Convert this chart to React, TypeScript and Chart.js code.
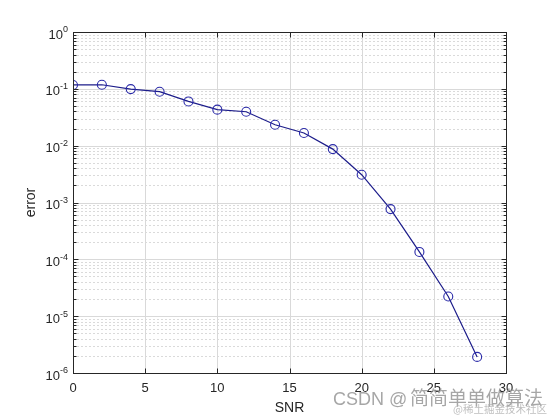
import React, { useEffect, useRef } from "react";
import { Chart, registerables } from "chart.js";

Chart.register(...registerables);

const snr = [0, 2, 4, 6, 8, 10, 12, 14, 16, 18, 20, 22, 24, 26, 28];
const errorValues = [
  0.117, 0.118, 0.099, 0.089, 0.06, 0.043, 0.0395, 0.0233, 0.0167, 0.0087,
  0.00308, 0.000765, 0.000135, 0.0000222, 0.00000192,
];
const xTicks = [0, 5, 10, 15, 20, 25, 30];
const yExponents = [0, -1, -2, -3, -4, -5, -6];
const xTitle = "SNR";
const yTitle = "error";
const watermarkLatin = "CSDN @";
const watermarkCjk = "简简单单做算法";
const watermarkSmall = "@稀土掘金技术社区";

const FONT = '"Liberation Sans", Arial, Helvetica, sans-serif';
const CJK = '"Noto Sans CJK SC", sans-serif';

const decorPlugin = {
  id: "decor",
  beforeDatasetsDraw(chart: any) {
    const { ctx, chartArea: a, scales } = chart;
    const xs = scales.x;
    const ys = scales.y;
    ctx.save();
    // minor y grid (dotted)
    ctx.strokeStyle = "#dadada";
    ctx.lineWidth = 1;
    ctx.setLineDash([2, 2]);
    for (const e of yExponents) {
      if (e === 0) continue;
      for (let k = 2; k <= 9; k++) {
        const y = Math.round(ys.getPixelForValue(k * Math.pow(10, e))) + 0.5;
        ctx.beginPath();
        ctx.moveTo(a.left, y);
        ctx.lineTo(a.right, y);
        ctx.stroke();
      }
    }
    ctx.setLineDash([]);
    // major grid
    ctx.strokeStyle = "#d9d9d9";
    for (const e of yExponents) {
      const y = Math.round(ys.getPixelForValue(Math.pow(10, e))) + 0.5;
      ctx.beginPath();
      ctx.moveTo(a.left, y);
      ctx.lineTo(a.right, y);
      ctx.stroke();
    }
    for (const t of xTicks) {
      const x = Math.round(xs.getPixelForValue(t)) + 0.5;
      ctx.beginPath();
      ctx.moveTo(x, a.top);
      ctx.lineTo(x, a.bottom);
      ctx.stroke();
    }
    ctx.restore();
  },
  afterDraw(chart: any) {
    const { ctx, chartArea: a, scales } = chart;
    const xs = scales.x;
    const ys = scales.y;
    ctx.save();
    const L = Math.round(a.left) + 0.5;
    const R = Math.round(a.right) + 0.5;
    const T = Math.round(a.top) + 0.5;
    const B = Math.round(a.bottom) + 0.5;
    ctx.strokeStyle = "#262626";
    ctx.lineWidth = 1;
    ctx.strokeRect(L, T, R - L, B - T);
    // ticks
    ctx.beginPath();
    for (const e of yExponents) {
      const y = Math.round(ys.getPixelForValue(Math.pow(10, e))) + 0.5;
      ctx.moveTo(L, y);
      ctx.lineTo(L + 5, y);
      ctx.moveTo(R, y);
      ctx.lineTo(R - 5, y);
      if (e === 0) continue;
      for (let k = 2; k <= 9; k++) {
        const ym = Math.round(ys.getPixelForValue(k * Math.pow(10, e))) + 0.5;
        ctx.moveTo(L, ym);
        ctx.lineTo(L + 3, ym);
        ctx.moveTo(R, ym);
        ctx.lineTo(R - 3, ym);
      }
    }
    for (const t of xTicks) {
      const x = Math.round(xs.getPixelForValue(t)) + 0.5;
      ctx.moveTo(x, B);
      ctx.lineTo(x, B - 5);
      ctx.moveTo(x, T);
      ctx.lineTo(x, T + 5);
    }
    ctx.stroke();

    // tick labels
    ctx.fillStyle = "#262626";
    ctx.font = `13px ${FONT}`;
    ctx.textAlign = "center";
    ctx.textBaseline = "middle";
    for (const t of xTicks) {
      ctx.fillText(String(t), xs.getPixelForValue(t), a.bottom + 15);
    }
    for (const e of yExponents) {
      const y = ys.getPixelForValue(Math.pow(10, e));
      const exp = e === 0 ? "0" : "-" + String(-e);
      ctx.font = `9px ${FONT}`;
      const ew = ctx.measureText(exp).width;
      const expRight = a.left - 5;
      ctx.textAlign = "right";
      ctx.fillText(exp, expRight, y - 2);
      ctx.font = `13px ${FONT}`;
      ctx.fillText("10", expRight - ew, y + 3);
    }

    // axis titles
    ctx.font = `14px ${FONT}`;
    ctx.textAlign = "center";
    ctx.textBaseline = "middle";
    ctx.fillText(xTitle, (a.left + a.right) / 2, a.bottom + 35);
    ctx.save();
    ctx.translate(31, (a.top + a.bottom) / 2);
    ctx.rotate(-Math.PI / 2);
    ctx.fillText(yTitle, 0, 0);
    ctx.restore();

    // watermark
    ctx.textAlign = "left";
    ctx.textBaseline = "alphabetic";
    ctx.fillStyle = "rgba(150,150,150,0.85)";
    ctx.font = `18px ${FONT}`;
    ctx.fillText(watermarkLatin, 333, 405);
    ctx.font = `19px ${CJK}`;
    ctx.fillText(watermarkCjk, 410, 405);
    ctx.fillStyle = "rgba(175,175,175,0.8)";
    ctx.font = `10.5px ${CJK}`;
    ctx.fillText(watermarkSmall, 453, 413);
    ctx.restore();
  },
};

export default function App() {
  const ref = useRef<HTMLCanvasElement | null>(null);
  useEffect(() => {
    if (!ref.current) return;
    const chart = new Chart(ref.current, {
      type: "line",
      data: {
        datasets: [
          {
            data: snr.map((s, i) => ({ x: s, y: errorValues[i] })),
            borderColor: "#1c1c8a",
            borderWidth: 1.2,
            pointStyle: "circle",
            pointRadius: 4.5,
            pointBorderWidth: 1.1,
            pointBorderColor: "#2a2aa8",
            pointBackgroundColor: "rgba(0,0,0,0)",
            tension: 0,
            fill: false,
          },
        ],
      },
      options: {
        responsive: false,
        animation: false,
        devicePixelRatio: 1,
        layout: { padding: { left: 73, top: 32, right: 54, bottom: 47 } },
        plugins: { legend: { display: false }, tooltip: { enabled: false } },
        events: [],
        scales: {
          x: {
            type: "linear",
            min: 0,
            max: 30,
            ticks: { display: false },
            grid: { display: false },
            border: { display: false },
            afterFit: (s: any) => {
              s.height = 0;
            },
          },
          y: {
            type: "logarithmic",
            min: 1e-6,
            max: 1,
            ticks: { display: false },
            grid: { display: false },
            border: { display: false },
            afterFit: (s: any) => {
              s.width = 0;
            },
          },
        },
      },
      plugins: [decorPlugin],
    });
    return () => chart.destroy();
  }, []);
  return (
    <div
      style={{
        position: "absolute",
        left: 0,
        top: 0,
        width: 560,
        height: 420,
        background: "#fff",
      }}
    >
      <canvas ref={ref} width={560} height={420} />
    </div>
  );
}
